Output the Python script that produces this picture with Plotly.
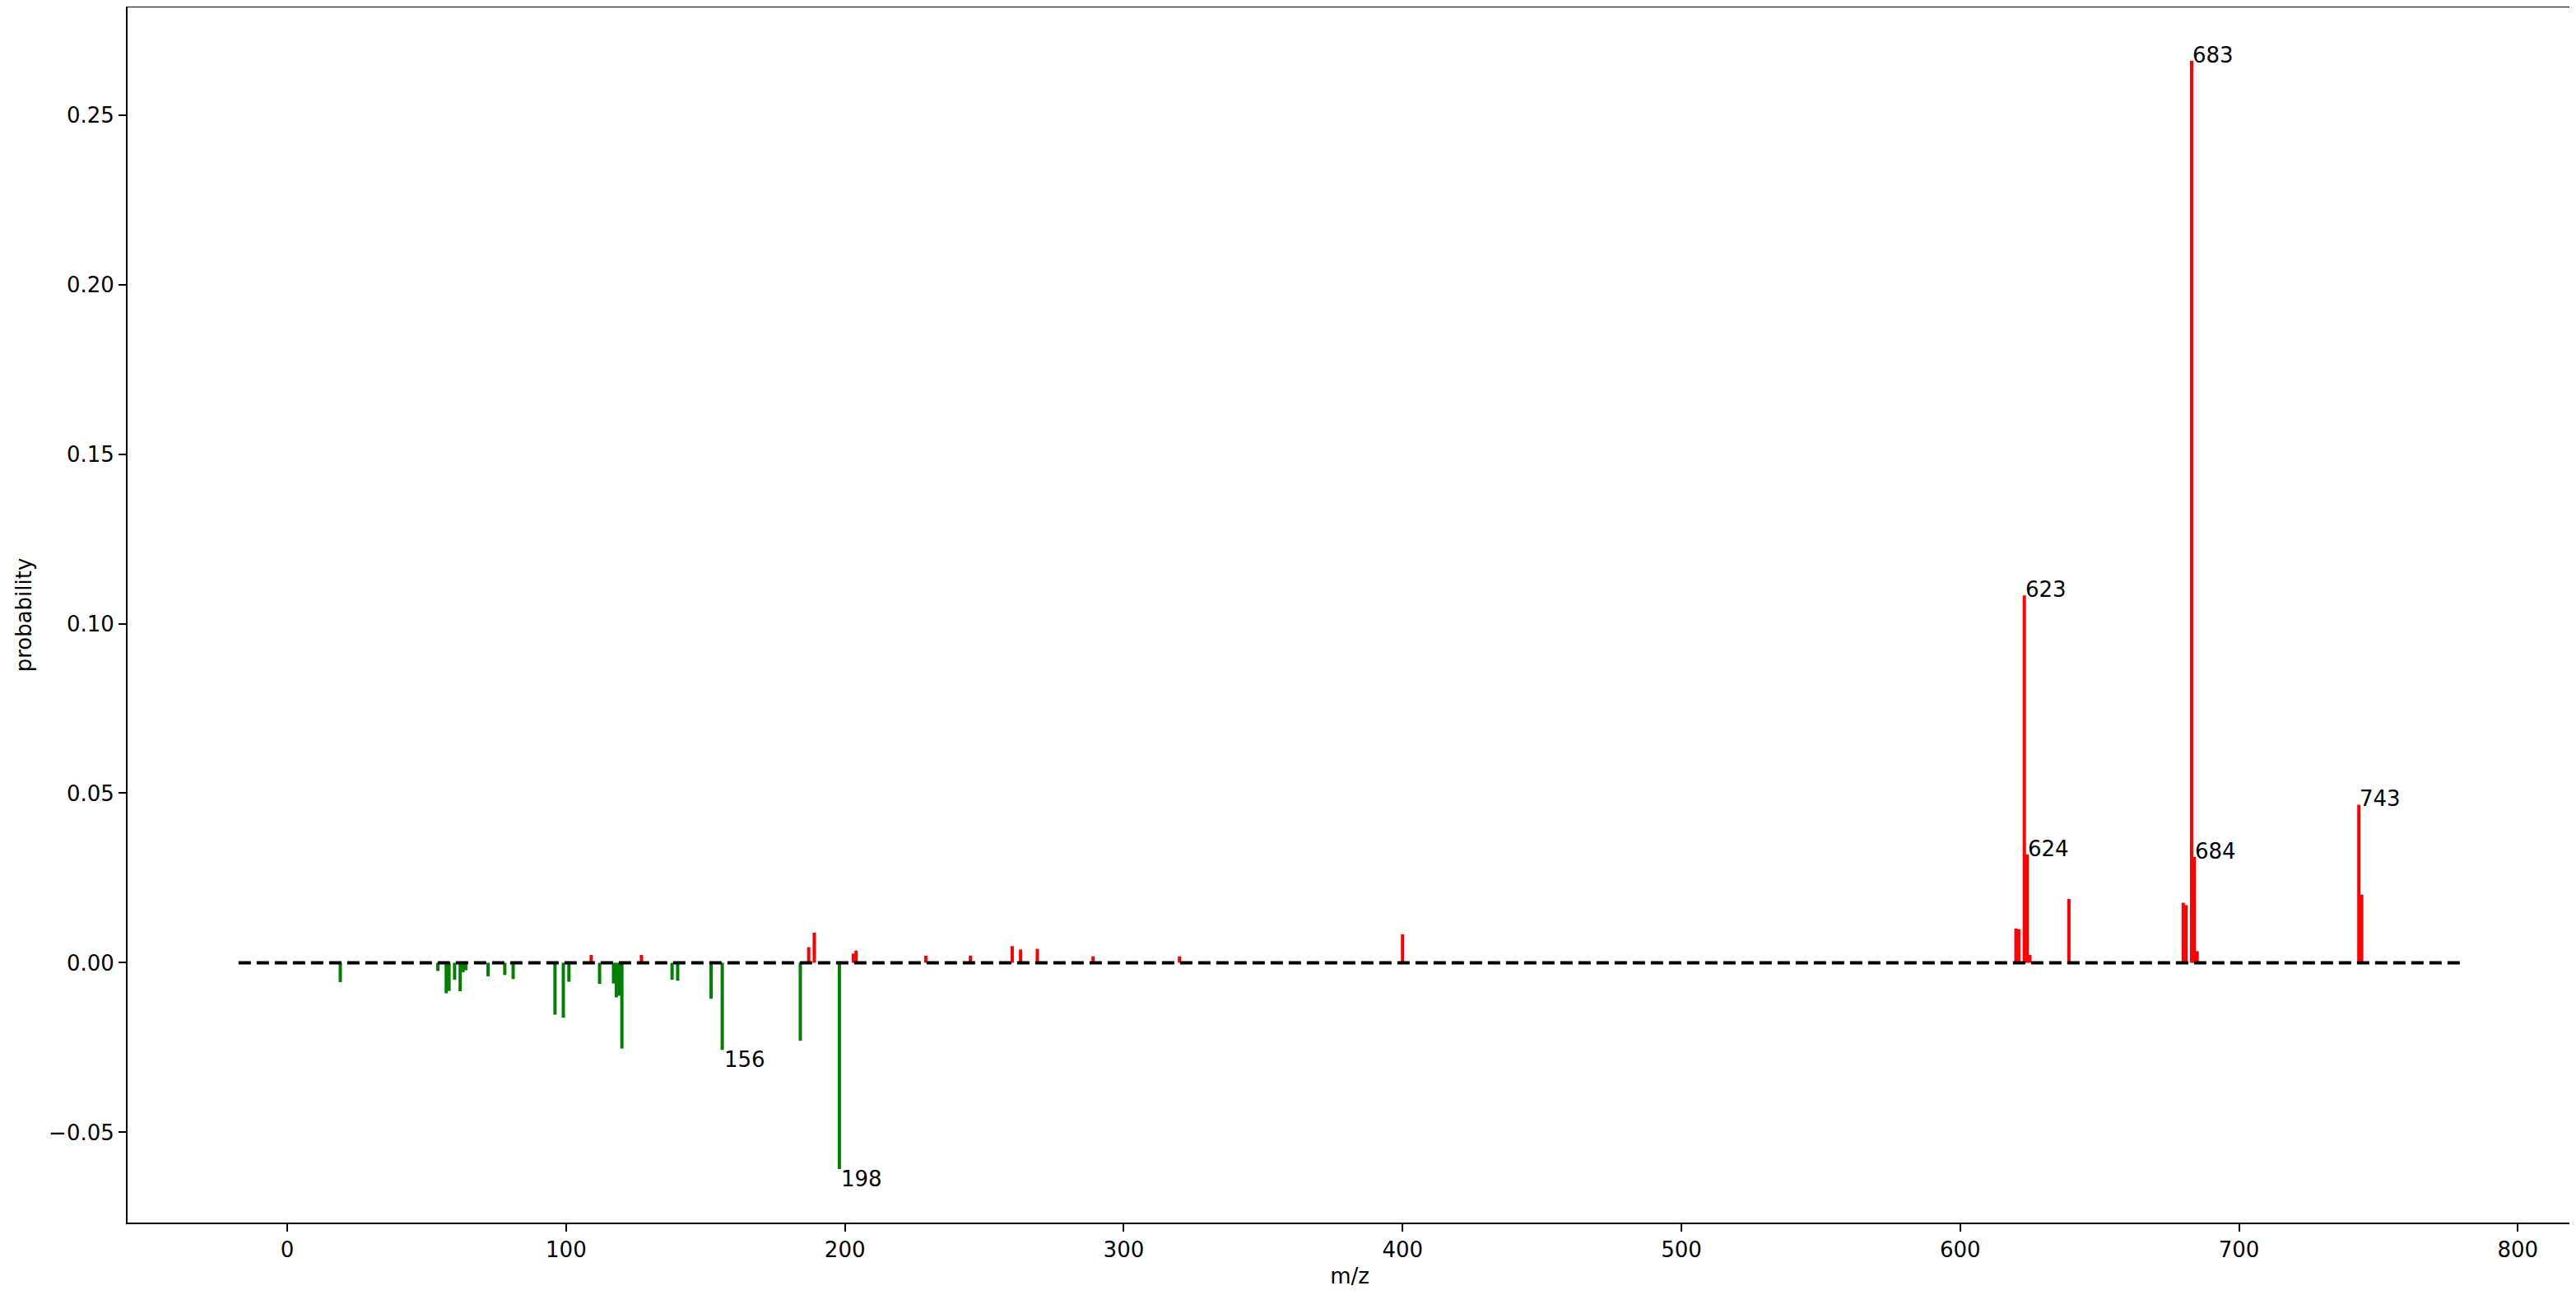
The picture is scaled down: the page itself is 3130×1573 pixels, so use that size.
import plotly.graph_objects as go

# ---- data ----
pos_mz = [109, 127, 187, 189, 203, 204, 229, 245, 260, 263, 269, 289, 320, 400,
          620, 621, 623, 624, 625, 639, 680, 681, 683, 684, 685, 743, 744]
pos_prob = [0.0023, 0.0023, 0.0046, 0.0089, 0.0027, 0.0036, 0.0021, 0.0021, 0.0049,
            0.0039, 0.0041, 0.0019, 0.0019, 0.0084,
            0.0101, 0.0099, 0.1083, 0.0320, 0.0023, 0.0188, 0.0177, 0.0170,
            0.2660, 0.0312, 0.0034, 0.0466, 0.0201]

neg_mz = [19, 54, 57, 58, 60, 62, 63, 64, 72, 78, 81, 96, 99, 101, 112,
          117, 118, 119, 120, 138, 140, 152, 156, 184, 198]
neg_prob = [0.0057, 0.0024, 0.0090, 0.0083, 0.0050, 0.0084, 0.0028, 0.0022,
            0.0040, 0.0036, 0.0048, 0.0153, 0.0162, 0.0056, 0.0062,
            0.0061, 0.0102, 0.0097, 0.0253, 0.0050, 0.0053, 0.0106, 0.0257,
            0.0230, 0.0608]

pos_labels = [623, 624, 683, 684, 743]
neg_labels = [156, 198]

baseline_x = [-17.5, 780.5]

x_ticks = [0, 100, 200, 300, 400, 500, 600, 700, 800]
y_ticks = [-0.05, 0.0, 0.05, 0.10, 0.15, 0.20, 0.25]

FONT = "DejaVu Sans"
FS = 26


def stems(xs, ys, sign):
    sx, sy = [], []
    for x, y in zip(xs, ys):
        sx += [x, x, None]
        sy += [0, sign * y, None]
    return sx, sy


fig = go.Figure()

px_, py_ = stems(pos_mz, pos_prob, 1)
fig.add_trace(go.Scatter(x=px_, y=py_, mode="lines",
                         line=dict(color="#ff0000", width=4),
                         showlegend=False, hoverinfo="skip"))

nx_, ny_ = stems(neg_mz, neg_prob, -1)
fig.add_trace(go.Scatter(x=nx_, y=ny_, mode="lines",
                         line=dict(color="#008000", width=4),
                         showlegend=False, hoverinfo="skip"))

fig.add_trace(go.Scatter(x=baseline_x, y=[0, 0], mode="lines",
                         line=dict(color="black", width=4, dash="15px,7px"),
                         showlegend=False, hoverinfo="skip"))

annotations = []
for m in pos_labels:
    p = pos_prob[pos_mz.index(m)]
    annotations.append(dict(x=m, y=p, text=str(m), showarrow=False,
                            xanchor="left", yanchor="bottom", yshift=-10, xshift=-1,
                            font=dict(family=FONT, size=FS, color="black")))
for m in neg_labels:
    p = neg_prob[neg_mz.index(m)]
    annotations.append(dict(x=m, y=-p, text=str(m), showarrow=False,
                            xanchor="left", yanchor="top", yshift=5, xshift=0,
                            font=dict(family=FONT, size=FS, color="black")))

axis_common = dict(showline=True, mirror=True, linecolor="black", linewidth=2,
                   ticks="outside", ticklen=9, tickwidth=2, tickcolor="black",
                   showgrid=False, zeroline=False,
                   tickfont=dict(family=FONT, size=FS, color="black"),
                   automargin=False)

# the page body adds an 8px offset, so the figure is sized to fit the window
fig.update_layout(
    width=3122, height=1557,
    margin=dict(l=147, r=5, t=1, b=80),
    paper_bgcolor="white", plot_bgcolor="white",
    annotations=annotations,
    xaxis=dict(range=[-57.3, 819.4], tickvals=x_ticks,
               ticktext=[str(v) for v in x_ticks],
               title=dict(text="m/z", font=dict(family=FONT, size=FS, color="black"),
                          standoff=10),
               **axis_common),
    yaxis=dict(range=[-0.0766, 0.2817], tickvals=y_ticks, tickformat=".2f",
               title=dict(text="probability", font=dict(family=FONT, size=FS, color="black"),
                          standoff=13),
               **axis_common),
)

fig.write_html("out.html")
